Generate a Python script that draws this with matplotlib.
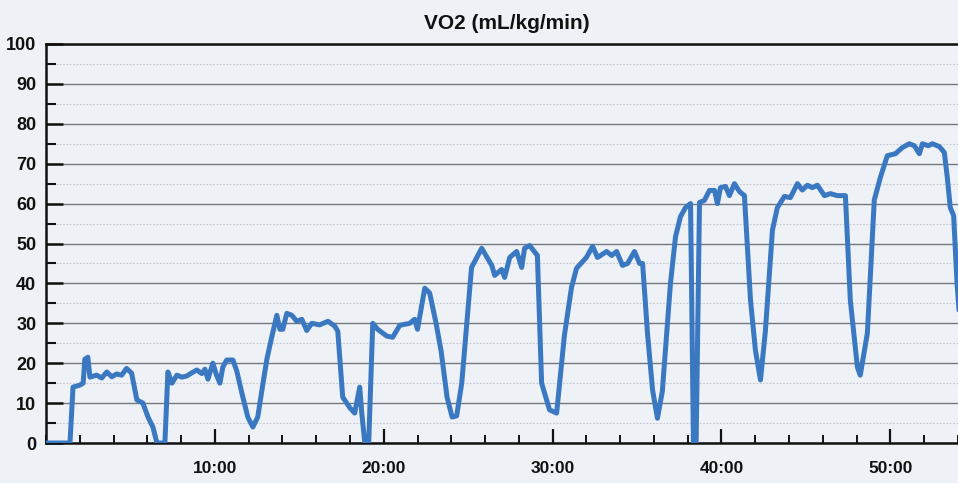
import matplotlib.pyplot as plt
from matplotlib.ticker import MultipleLocator, FuncFormatter

plt.rcParams['font.family'] = ['Liberation Sans', 'DejaVu Sans']

# elapsed time (minutes) and VO2 (mL/kg/min)
minutes = [0.0, 1.42, 1.6, 2.0, 2.2, 2.3, 2.48, 2.6, 3.0, 3.3, 3.6, 3.9, 4.18, 4.48,
           4.77, 5.07, 5.38, 5.74, 6.04, 6.33, 6.57, 7.04, 7.22, 7.46, 7.75, 8.05,
           8.34, 8.64, 8.93, 9.23, 9.41, 9.59, 9.88, 10.1, 10.3, 10.47, 10.7, 11.07,
           11.3, 11.6, 11.95, 12.25, 12.54, 12.84, 13.08, 13.37, 13.67, 13.85, 14.02,
           14.26, 14.56, 14.85, 15.15, 15.44, 15.74, 16.2, 16.7, 17.1, 17.28, 17.57,
           18.0, 18.28, 18.58, 18.7, 18.88, 19.11, 19.35, 19.64, 20.18, 20.53, 20.95,
           21.54, 21.83, 22.0, 22.43, 22.72, 23.1, 23.4, 23.75, 24.05, 24.32, 24.62,
           25.2, 25.8, 26.4, 26.57, 26.98, 27.16, 27.46, 27.87, 28.17, 28.34, 28.64,
           29.1, 29.35, 29.82, 30.24, 30.7, 31.12, 31.42, 32.0, 32.37, 32.66, 33.2,
           33.5, 33.79, 34.14, 34.44, 34.85, 35.15, 35.33, 35.62, 35.92, 36.21, 36.5,
           36.98, 37.28, 37.57, 37.87, 38.17, 38.34, 38.5, 38.7, 38.99, 39.29, 39.59,
           39.76, 39.94, 40.24, 40.47, 40.77, 41.07, 41.36, 41.72, 42.01, 42.31, 42.6,
           43.02, 43.31, 43.73, 44.08, 44.5, 44.79, 45.09, 45.38, 45.68, 46.1, 46.45,
           46.86, 47.34, 47.63, 48.05, 48.22, 48.64, 49.05, 49.4, 49.82, 50.3, 50.7,
           51.12, 51.42, 51.72, 51.9, 52.25, 52.49, 52.9, 53.2, 53.37, 53.55, 53.75,
           53.95, 54.3]
vo2 = [0, 0, 14, 14.5, 15, 21, 21.5, 16.5, 17, 16.3, 17.8, 16.6, 17.3, 17,
       18.7, 17.5, 10.8, 10, 6.5, 4, 0, 0, 17.8, 15, 17, 16.5,
       16.8, 17.6, 18.3, 17.4, 18.5, 16, 20, 17, 15, 19, 20.8, 20.8,
       18, 12.5, 6.5, 4, 6.5, 14.7, 21, 26.6, 32, 28.5, 28.5,
       32.5, 32, 30.5, 31, 28.2, 30, 29.6, 30.5, 29.3, 28, 11.5,
       8.8, 7.5, 14, 7.5, 0, 0, 30, 28.5, 26.8, 26.5, 29.5,
       30, 31, 28.5, 38.8, 37.6, 30, 23, 11.5, 6.5, 6.8, 15,
       44, 48.8, 44.5, 42, 43.5, 41.5, 46.5, 48, 44, 48.8, 49.5,
       47, 15, 8.3, 7.5, 27, 39, 43.8, 46.5, 49.3, 46.5, 48,
       47, 48, 44.5, 45, 48, 45, 45, 27.5, 13.3, 6.2, 13,
       40, 51.7, 56.7, 59, 60, 0, 0, 60.3, 60.8, 63.3, 63.3,
       60, 64, 64.3, 62, 65, 63, 62, 35.8, 23.3, 15.8, 28,
       53.4, 59, 61.8, 61.5, 65, 63.4, 64.6, 64, 64.6, 62, 62.5,
       62, 62, 35.8, 19, 17, 27.5, 60.9, 66.4, 72, 72.5, 74,
       75, 74.5, 72.5, 75, 74.5, 75, 74.3, 72.8, 66.7, 59, 57,
       40, 20]

x_major = [10, 20, 30, 40, 50]
y_major = list(range(0, 101, 10))

paper = '#eef2f7'
fig = plt.figure(figsize=(9.58, 4.83), dpi=100, facecolor=paper)
# axes run a little past the right edge of the figure
ax = fig.add_axes([46 / 958, 40 / 483, 922 / 958, 399 / 483], facecolor=paper)

ax.plot(minutes, vo2, color='#3a78c2', lw=3.6, solid_joinstyle='round',
        solid_capstyle='round', zorder=3)

ax.set_xlim(0, 54.6)
ax.set_ylim(0, 100)

ax.set_yticks(y_major)
ax.yaxis.set_minor_locator(MultipleLocator(5))
ax.set_xticks(x_major)
ax.xaxis.set_minor_locator(MultipleLocator(2))
ax.xaxis.set_major_formatter(FuncFormatter(lambda v, _: f'{int(v)}:00'))

ax.tick_params(axis='y', which='major', direction='in', length=12, width=1.8,
               pad=7, labelsize=13, colors='#111111')
ax.tick_params(axis='y', which='minor', direction='in', length=7, width=1.5,
               color='#111111')
ax.tick_params(axis='x', which='major', direction='in', length=10, width=1.6,
               pad=13, labelsize=12.5, colors='#111111')
ax.tick_params(axis='x', which='minor', direction='in', length=6, width=1.4,
               color='#111111')
for lab in ax.get_xticklabels() + ax.get_yticklabels():
    lab.set_fontweight('bold')

ax.grid(axis='y', which='major', color='#74787e', lw=1.0)
ax.grid(axis='y', which='minor', color='#c3c7ce', lw=0.8, ls=(0, (1.5, 1.5)))
ax.set_axisbelow(True)

for side in ['left', 'bottom', 'top']:
    ax.spines[side].set_color('#111111')
    ax.spines[side].set_linewidth(1.8)
ax.spines['right'].set_visible(False)

ax.set_title('VO2 (mL/kg/min)', fontsize=15, fontweight='bold', pad=11,
             color='#111111')

plt.savefig('out.png', dpi=100, facecolor=paper)
